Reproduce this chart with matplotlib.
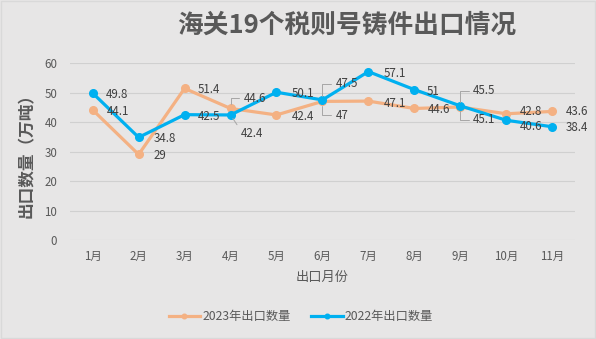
import matplotlib
matplotlib.use("Agg")
import matplotlib.pyplot as plt

plt.rcParams['font.family'] = ['Noto Sans CJK SC', 'DejaVu Sans']

months = ['1月', '2月', '3月', '4月', '5月', '6月', '7月', '8月', '9月', '10月', '11月']
export_2023 = [44.1, 29, 51.4, 44.6, 42.4, 47, 47.1, 44.6, 45.1, 42.8, 43.6]
export_2022 = [49.8, 34.8, 42.5, 42.4, 50.1, 47.5, 57.1, 51, 45.5, 40.6, 38.4]
yticks = [0, 10, 20, 30, 40, 50, 60]

# label offsets in pixels (dx, dy) and whether a leader line is drawn
off_2023 = [(14, -2), (15, -1), (13, -1), (13, 10), (15, -2), (13, -14),
            (15, -2), (13, -1), (13, -13), (14, 2), (14, 0)]
lead_2023 = [None, None, None, 'angle', None, 'angle', None, None, 'angle', None, None]
off_2022 = [(13, -1), (15, -1), (13, -2), (10, -19), (15, -1), (13, 16),
            (15, -2), (12, -2), (13, 15), (14, -6), (14, -1)]
lead_2022 = [None, None, None, 'line', None, 'angle', None, None, 'angle', None, None]

bg = '#E7E6E6'
c23 = '#F4B183'
c22 = '#00B0F0'
txt = '#595959'

fig = plt.figure(figsize=(5.96, 3.39), dpi=100, facecolor=bg)
ax = fig.add_axes([0.117, 0.292, 0.848, 0.522], facecolor=bg)

x = list(range(len(months)))
ax.plot(x, export_2023, color=c23, lw=2.3, marker='o', ms=5.5, label='2023年出口数量', zorder=3)
ax.plot(x, export_2022, color=c22, lw=2.3, marker='o', ms=5.5, label='2022年出口数量', zorder=4)

px = 0.72
def add_labels(vals, offs, leads):
    for i, v in enumerate(vals):
        dx, dy = offs[i]
        ap = None
        if leads[i] == 'angle':
            ap = dict(arrowstyle='-', color='#A6A6A6', lw=0.7, shrinkA=1, shrinkB=3,
                      relpos=(0, 0.5), connectionstyle='angle,angleA=0,angleB=90,rad=0')
        elif leads[i] == 'line':
            ap = dict(arrowstyle='-', color='#A6A6A6', lw=0.7, shrinkA=1, shrinkB=3,
                      relpos=(0, 0.8))
        ax.annotate(f'{v:g}', (i, v), xytext=(dx * px, dy * px), textcoords='offset points',
                    ha='left', va='center', fontsize=8.3, color='#404040',
                    arrowprops=ap, zorder=5)

add_labels(export_2023, off_2023, lead_2023)
add_labels(export_2022, off_2022, lead_2022)

ax.set_xlim(-0.5, len(months) - 0.5)
ax.set_ylim(0, 60)
ax.set_yticks(yticks)
ax.set_xticks(x)
ax.set_xticklabels(months)
ax.yaxis.grid(True, color='#D0D0D0', lw=0.8)
ax.set_axisbelow(True)
for s in ax.spines.values():
    s.set_visible(False)
ax.tick_params(length=0, colors=txt, labelsize=8.3, pad=9)
ax.tick_params(axis='x', pad=7)

ax.set_xlabel('出口月份', fontsize=9.5, color=txt, labelpad=6)
ax.set_ylabel('出口数量（万吨）', fontsize=12, color=txt, fontweight='bold', labelpad=6)

fig.text(0.582, 0.925, '海关19个税则号铸件出口情况', ha='center', va='center',
         fontsize=18.5, fontweight='bold', color=txt)

leg = fig.legend(loc='center', bbox_to_anchor=(0.505, 0.066), ncol=2, frameon=False,
                 fontsize=8.8, labelcolor=txt, handlelength=2.6, columnspacing=1.6,
                 handletextpad=0.2, markerscale=0.6)

fig.patches.append(plt.Rectangle((0.002, 0.003), 0.996, 0.994, transform=fig.transFigure,
                                 fill=False, edgecolor='#D9D9D9', lw=1))

fig.savefig('out.png', dpi=100, facecolor=bg)
